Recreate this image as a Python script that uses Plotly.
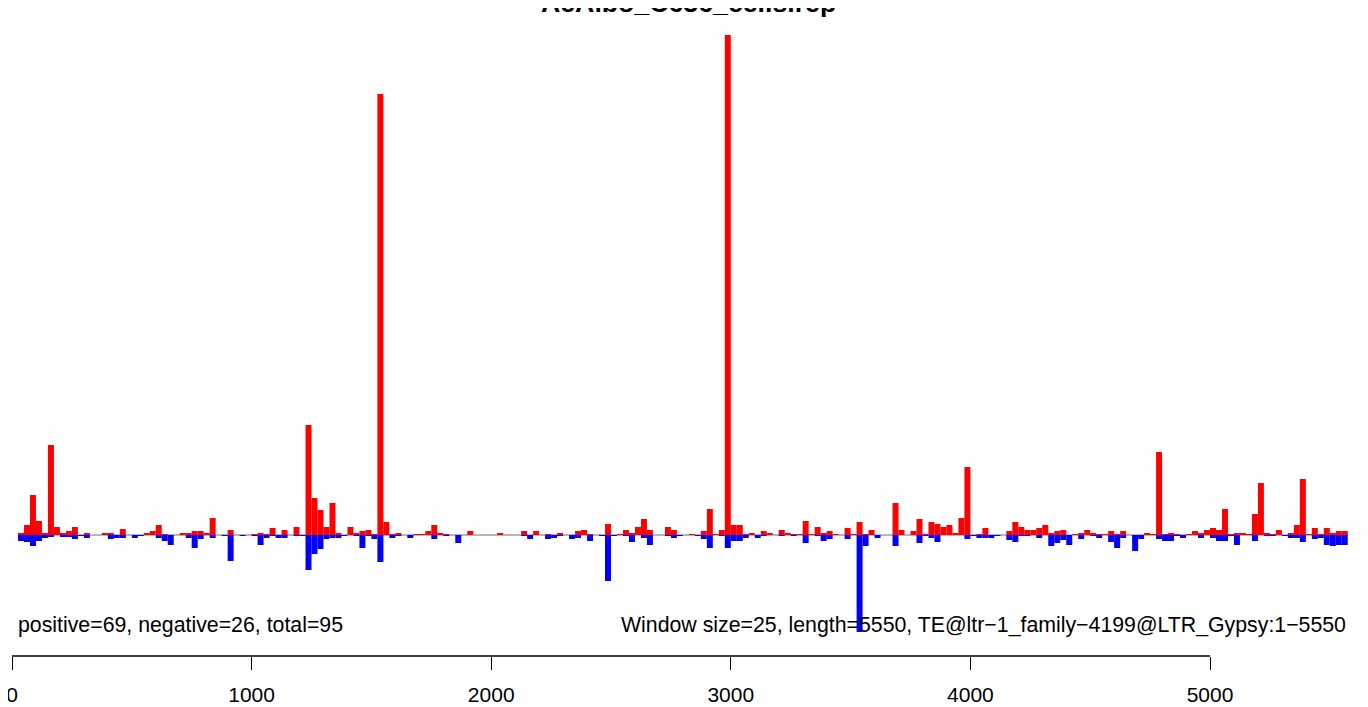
import plotly.graph_objects as go

# Window data: window size 25, length 5550 -> 222 windows
window_size = 25
n_windows = 222
window_start = [window_size * i for i in range(1, n_windows + 1)]

positive = [
    2, 10, 40, 14, 2, 90, 8, 2, 4, 8, 0, 1.5, 0, 0, 2, 2, 0, 6, 0, 0,
    0, 1.5, 4, 10, 1, 0, 0, 1.5, 1.5, 4, 4, 2, 17, 0, 0, 5, 0, 0, 0, 1,
    2, 1, 7, 0, 5, 0, 8, 0, 110, 37, 25, 8, 32, 1.5, 0, 8, 2, 4, 5, 1,
    441, 13, 1, 2, 0, 0, 1, 1, 4, 10, 2, 1, 0, 0, 0, 4, 0, 0, 0, 0,
    2, 0, 0, 0, 4, 0, 4, 0, 1, 0, 2, 0, 0, 4, 5, 1, 0, 0, 11, 0,
    1, 5, 2, 8, 16, 5, 0, 0, 8, 5, 0, 0, 1, 0, 4, 26, 1, 5, 500, 10,
    10, 1, 2, 0, 4, 2, 0, 5, 2, 1, 1, 14, 1, 8, 2, 4, 1, 0, 7, 1,
    13, 1, 5, 0, 0, 0, 32, 5, 0, 4, 16, 1, 13, 11, 8, 10, 2, 17, 68, 0,
    1, 7, 0, 0, 0, 4, 13, 8, 5, 5, 7, 10, 2, 4, 5, 0, 1, 2, 5, 2,
    1, 1, 4, 1, 4, 0, 0, 0, 2, 1, 83, 1, 2, 1, 0, 1, 4, 2, 5, 7,
    5, 26, 1, 2, 2, 1, 21, 52, 2, 1, 5, 0, 2, 10, 56, 1, 7, 1, 7, 2, 4, 4,
]

negative = [
    6, 7, 11, 6, 3, 1.5, 0, 1.5, 1.5, 4, 1, 3, 0, 0, 0, 4, 3, 3, 0, 3,
    1, 0, 0, 3, 6, 10, 0, 0, 3, 13, 4, 0, 3, 0, 1, 26, 0, 1, 0, 1,
    10, 3, 1, 3, 3, 0, 1, 1, 35, 19, 14, 4, 3, 3, 1, 0, 1, 13, 1, 4,
    27, 0, 3, 1, 0, 3, 0, 0, 0, 4, 0, 1, 0, 8, 0, 0, 0, 0, 0, 0,
    0, 0, 0, 0, 1, 4, 0, 0, 4, 3, 1, 0, 4, 3, 0, 6, 0, 1, 46, 1,
    0, 1, 7, 0, 3, 10, 0, 0, 1, 3, 1, 0, 0, 1, 4, 13, 0, 1, 13, 6,
    6, 3, 0, 3, 1, 0, 0, 1, 0, 1, 0, 8, 0, 1, 6, 4, 0, 0, 4, 0,
    97, 11, 0, 3, 0, 0, 11, 0, 0, 0, 8, 1, 3, 7, 0, 0, 0, 0, 4, 1,
    3, 3, 3, 1, 0, 5, 7, 1, 1, 0, 3, 0, 11, 8, 5, 10, 0, 4, 0, 1,
    3, 0, 7, 13, 3, 0, 16, 4, 0, 0, 4, 6, 6, 1, 3, 0, 0, 3, 0, 3,
    6, 6, 1, 10, 0, 0, 6, 0, 1, 1, 0, 1, 3, 3, 7, 0, 4, 3, 10, 11, 10, 10,
]

x_ticks = [0, 1000, 2000, 3000, 4000, 5000]
title_text = "AeAlbo_C636_cells.rep"
left_text = "positive=69, negative=26, total=95"
right_text = "Window size=25, length=5550, TE@ltr\u22121_family\u22124199@LTR_Gypsy:1\u22125550"

# The page places the figure 8px from the top-left corner (body margin),
# so the figure is sized to fill the rest of the 1368x707 window and
# reference pixel positions are shifted by that offset.
OFF = 8
W, H = 1368 - OFF, 707 - OFF
px0, px5000 = 12 - OFF, 1210 - OFF
scale = (px5000 - px0) / 5000.0
x_range = [-px0 / scale, (W - px0) / scale]
base_px = 535 - OFF
y_range = [base_px - H, base_px]
axis_y_paper = 1 - (656 - OFF) / H
text_val = 535 - 625   # value level of the two info texts

FONT = "Liberation Sans, Arial, Helvetica, sans-serif"

fig = go.Figure()
fig.add_trace(go.Bar(
    x=window_start, y=positive, width=window_size, offset=0,
    marker=dict(color="#FF0000", line=dict(width=0)), hoverinfo="x+y",
))
fig.add_trace(go.Bar(
    x=window_start, y=[-v for v in negative], width=window_size, offset=0,
    marker=dict(color="#0000FF", line=dict(width=0)), hoverinfo="x+y",
))

# baseline
fig.add_shape(type="line", xref="x", yref="y",
              x0=window_start[0], x1=window_start[-1] + window_size, y0=0, y1=0,
              line=dict(color="#6e6e6e", width=1), layer="below")
# R-style axis line from first to last tick
fig.add_shape(type="line", xref="x", yref="paper",
              x0=x_ticks[0], x1=x_ticks[-1], y0=axis_y_paper, y1=axis_y_paper,
              line=dict(color="black", width=1.3))

fig.add_annotation(text=f"<b>{title_text}</b>", xref="paper", yref="paper",
                   x=0.5, y=1, yanchor="middle", xanchor="center", yshift=5,
                   showarrow=False, font=dict(family=FONT, size=26.7, color="black"))
fig.add_annotation(text=left_text, xref="x", yref="y",
                   x=window_start[0], y=text_val, xanchor="left", yanchor="middle",
                   xshift=-2,
                   showarrow=False, font=dict(family=FONT, size=21.3, color="black"))
fig.add_annotation(text=right_text, xref="x", yref="y",
                   x=window_start[-1] + window_size, y=text_val, xanchor="right",
                   yanchor="middle",
                   showarrow=False, font=dict(family=FONT, size=21.3, color="black"))

fig.update_layout(
    width=W, height=H,
    margin=dict(l=0, r=0, t=0, b=0, pad=0, autoexpand=False),
    paper_bgcolor="white", plot_bgcolor="white",
    barmode="overlay", showlegend=False,
    xaxis=dict(range=x_range, anchor="free", position=axis_y_paper,
               automargin=False, ticklabeloverflow="allow",
               tickmode="array", tickvals=x_ticks, ticktext=[str(t) for t in x_ticks],
               ticks="outside", ticklen=13, tickwidth=1.3, tickcolor="black",
               showline=False, showgrid=False, zeroline=False,
               tickfont=dict(family=FONT, size=21, color="black"),
               ticklabelstandoff=7),
    yaxis=dict(range=y_range, visible=False, showgrid=False, zeroline=False,
               automargin=False),
)

fig.write_html("out.html")
